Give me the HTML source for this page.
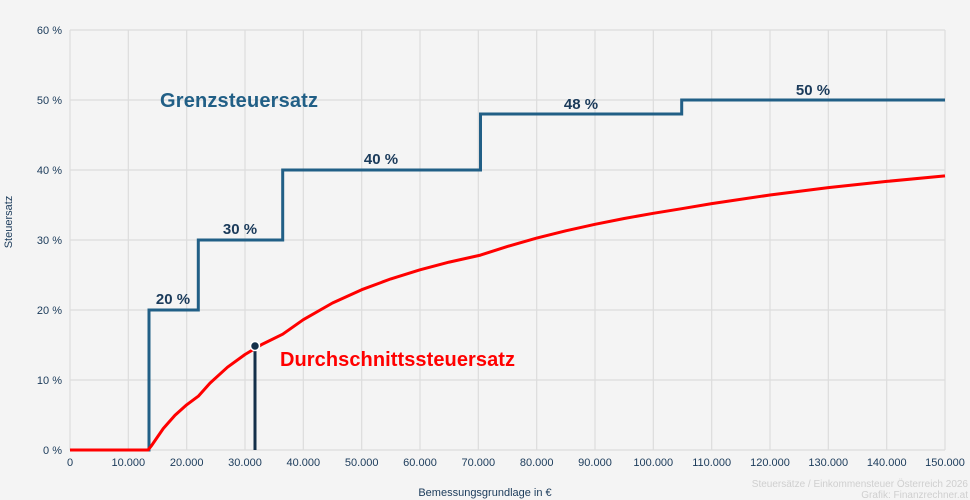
<!DOCTYPE html>
<html><head><meta charset="utf-8"><style>
body{margin:0;background:#f4f4f4;}
svg{display:block;font-family:"Liberation Sans",Arial,sans-serif;}
</style></head><body>
<svg width="970" height="500" viewBox="0 0 970 500">
<rect width="970" height="500" fill="#f4f4f4"/>
<g stroke="#dcdcdc" stroke-width="1.2">
<line x1="70" y1="30" x2="945" y2="30"/><line x1="70" y1="100" x2="945" y2="100"/><line x1="70" y1="170" x2="945" y2="170"/><line x1="70" y1="240" x2="945" y2="240"/><line x1="70" y1="310" x2="945" y2="310"/><line x1="70" y1="380" x2="945" y2="380"/><line x1="70" y1="450" x2="945" y2="450"/>
<line x1="70" y1="30" x2="70" y2="450"/><line x1="128.3" y1="30" x2="128.3" y2="450"/><line x1="186.7" y1="30" x2="186.7" y2="450"/><line x1="245" y1="30" x2="245" y2="450"/><line x1="303.3" y1="30" x2="303.3" y2="450"/><line x1="361.7" y1="30" x2="361.7" y2="450"/><line x1="420" y1="30" x2="420" y2="450"/><line x1="478.3" y1="30" x2="478.3" y2="450"/><line x1="536.7" y1="30" x2="536.7" y2="450"/><line x1="595" y1="30" x2="595" y2="450"/><line x1="653.3" y1="30" x2="653.3" y2="450"/><line x1="711.7" y1="30" x2="711.7" y2="450"/><line x1="770" y1="30" x2="770" y2="450"/><line x1="828.3" y1="30" x2="828.3" y2="450"/><line x1="886.7" y1="30" x2="886.7" y2="450"/><line x1="945" y1="30" x2="945" y2="450"/>
</g>
<g fill="#1a3a5a" font-size="11" text-anchor="end">
<text x="62" y="34">60 %</text><text x="62" y="104">50 %</text><text x="62" y="174">40 %</text><text x="62" y="244">30 %</text><text x="62" y="314">20 %</text><text x="62" y="384">10 %</text><text x="62" y="454">0 %</text>
</g>
<g fill="#1a3a5a" font-size="11" text-anchor="middle">
<text x="70" y="466">0</text><text x="128.3" y="466">10.000</text><text x="186.7" y="466">20.000</text><text x="245" y="466">30.000</text><text x="303.3" y="466">40.000</text><text x="361.7" y="466">50.000</text><text x="420" y="466">60.000</text><text x="478.3" y="466">70.000</text><text x="536.7" y="466">80.000</text><text x="595" y="466">90.000</text><text x="653.3" y="466">100.000</text><text x="711.7" y="466">110.000</text><text x="770" y="466">120.000</text><text x="828.3" y="466">130.000</text><text x="886.7" y="466">140.000</text><text x="945" y="466">150.000</text>
<text x="485" y="496">Bemessungsgrundlage in €</text>
</g>
<text transform="translate(12,222) rotate(-90)" fill="#1a3a5a" font-size="11" text-anchor="middle">Steuersatz</text>
<path d="M70,450 H149 V310 H198.3 V240 H282.7 V170 H480.5 V114 H681.7 V100 H945" fill="none" stroke="#215f86" stroke-width="3"/>
<path d="M70,450 H148 L151.7,445.4 L163.3,428.5 L175,415.3 L186.7,404.8 L198.3,396.2 L210,383.1 L227.5,367.2 L245,354.5 L262.5,344.1 L282.7,334.2 L303.3,319.7 L332.5,303 L361.7,289.7 L390.8,278.9 L420,269.8 L449.2,262.1 L480.5,255.1 L507.5,246.4 L536.7,238.1 L565.8,230.8 L595,224.3 L624.2,218.5 L653.3,213.3 L681.7,208.7 L711.7,203.6 L770,195 L828.3,187.6 L886.7,181.4 L945,175.9" fill="none" stroke="#ff0000" stroke-width="3" stroke-linejoin="round"/>
<line x1="255" y1="346" x2="255" y2="450" stroke="#14304a" stroke-width="3"/>
<circle cx="255" cy="346" r="4.5" fill="#14304a" stroke="#fff" stroke-width="1.5"/>
<g fill="#1a3a5a" font-size="15" font-weight="bold" text-anchor="middle">
<text x="173" y="304">20 %</text><text x="240" y="234">30 %</text><text x="381" y="164">40 %</text><text x="581" y="109">48 %</text><text x="813" y="95">50 %</text>
</g>
<text x="160" y="107" fill="#215f86" font-size="20" font-weight="bold" textLength="158">Grenzsteuersatz</text>
<text x="280" y="366" fill="#ff0000" font-size="20" font-weight="bold" textLength="235">Durchschnittssteuersatz</text>
<g fill="#cfcfcf" font-size="10" text-anchor="end">
<text x="968" y="487">Steuersätze / Einkommensteuer Österreich 2026</text>
<text x="968" y="498">Grafik: Finanzrechner.at</text>
</g>
</svg>
</body></html>
